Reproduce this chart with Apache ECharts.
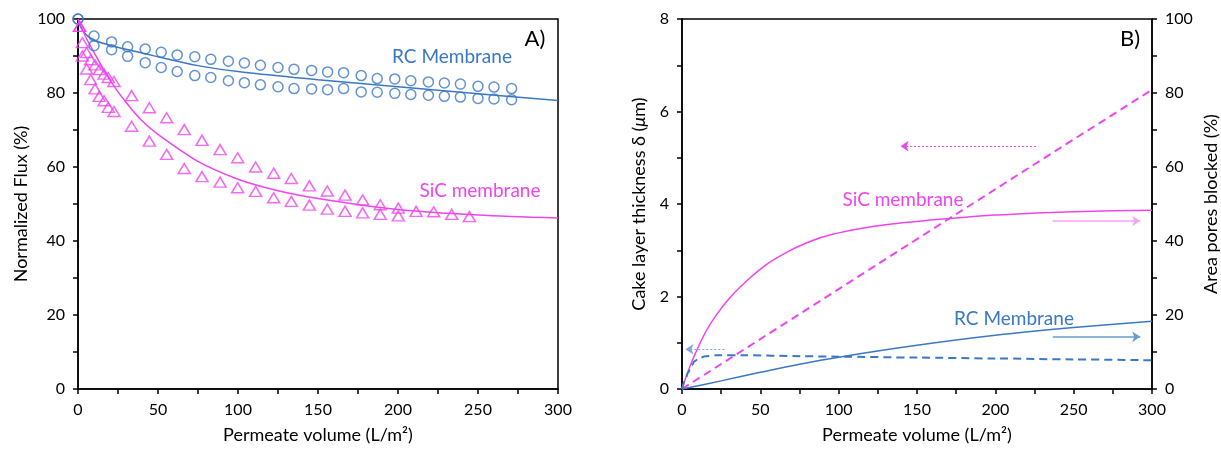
<!DOCTYPE html>
<html>
<head>
<meta charset="utf-8">
<script src="https://cdn.jsdelivr.net/npm/echarts@6/dist/echarts.min.js"></script>
<style>
  html, body { margin: 0; padding: 0; background: #fff; }
  #chart { width: 1221px; height: 449px; }
</style>
</head>
<body>
<div id="chart"></div>
<script>
// A) normalized flux, two runs per membrane
var rcVolume = [0, 10, 21, 31, 42, 52, 62, 73, 83, 94, 104, 114, 125, 135, 146, 156, 166, 177, 187, 198, 208, 219, 229, 239, 250, 260, 271];
var rcRun1 = [100, 95.4, 93.8, 92.5, 91.9, 91.0, 90.3, 89.8, 89.1, 88.6, 88.1, 87.5, 86.9, 86.4, 86.1, 85.7, 85.5, 84.7, 83.9, 83.8, 83.3, 83.0, 82.7, 82.4, 81.8, 81.6, 81.2];
var rcRun2 = [100, 92.8, 91.7, 89.9, 88.2, 86.9, 85.8, 84.7, 84.2, 83.3, 82.8, 82.2, 81.7, 81.2, 81.1, 80.9, 81.2, 80.3, 80.2, 79.9, 79.6, 79.4, 79.1, 78.9, 78.5, 78.4, 78.2];

var sicVolume1 = [1, 2.7, 5.4, 7.9, 10.6, 13.3, 16.3, 18.9, 22.5, 33.5, 44.6, 55.4, 66.4, 77.5, 88.8, 99.8, 111, 122.3, 133.3, 144.6, 155.8, 166.9, 177.9, 188.9, 200.2, 211.3, 222.3, 233.6, 244.6];
var sicRun1 = [98, 93.6, 90.9, 89.0, 87.6, 86.3, 85.1, 84.2, 83.1, 79.3, 76.0, 73.3, 70.1, 67.2, 64.7, 62.5, 60.0, 58.3, 56.9, 54.9, 53.5, 52.4, 51.1, 49.8, 48.9, 48.0, 47.9, 47.2, 46.6];
var sicVolume2 = [1, 2.7, 5.4, 7.9, 10.6, 13.3, 16.3, 18.9, 22.5, 33.5, 44.6, 55.4, 66.4, 77.5, 88.8, 99.8, 111, 122.3, 133.3, 144.6, 155.8, 166.9, 177.9, 188.9, 200.2];
var sicRun2 = [98, 90.0, 86.5, 83.6, 81.1, 79.1, 77.9, 76.1, 75.0, 71.0, 67.0, 63.4, 59.6, 57.4, 55.9, 54.4, 53.4, 51.7, 50.7, 49.7, 48.6, 48.0, 47.6, 47.2, 46.8];

var rcFitX = [0, 2, 5, 8, 15, 30, 50, 75, 100, 135, 150, 200, 250, 300];
var rcFitY = [100, 97.5, 95.8, 94.8, 93.5, 91.8, 89.8, 87.4, 85.8, 84.2, 83.6, 81.7, 79.8, 78.0];
var sicFitX = [0, 5, 10, 20, 30, 40, 50, 75, 100, 125, 150, 200, 250, 300];
var sicFitY = [100, 95, 91, 83.5, 77.5, 72.5, 68.8, 61.5, 56.7, 53.6, 51.5, 48.5, 47, 46.2];

// B) cake thickness (left axis) and area blocked (right axis)
var sicBlockedX = [0, 5, 10, 15, 20, 30, 40, 50, 60, 80, 100, 125, 150, 175, 200, 250, 300];
var sicBlockedY = [0, 6, 11, 15.3, 18.8, 24.4, 28.7, 32.4, 35.3, 39.6, 42.2, 44.1, 45.3, 46.2, 47, 47.9, 48.3];
var sicCakeX = [0, 75, 150, 225, 300];
var sicCakeY = [0, 1.62, 3.24, 4.86, 6.47];
var rcBlockedX = [0, 25, 50, 75, 100, 150, 200, 250, 300];
var rcBlockedY = [0, 2.2, 4.5, 6.7, 8.6, 11.8, 14.5, 16.6, 18.3];
var rcCakeX = [0, 2, 4, 6, 8, 11, 15, 22, 40, 75, 100, 150, 200, 250, 300];
var rcCakeY = [0, 0.2, 0.36, 0.5, 0.6, 0.67, 0.71, 0.73, 0.73, 0.71, 0.7, 0.68, 0.66, 0.64, 0.62];

// arrows: [x from, x to, y]
var sicCakeArrow = [226, 139.5, 5.25];
var rcCakeArrow = [27, 2.2, 0.86];
var sicBlockedArrow = [236.7, 292.5, 45.4];
var rcBlockedArrow = [236.7, 292.5, 14.1];

var xTicks = [0, 50, 100, 150, 200, 250, 300];

var BLUE = '#3b78c4';
var PINK = '#ee45ee';
var FONT = 'Lato';

function pairs(xs, ys) {
  return xs.map(function (x, i) { return [x, ys[i]]; });
}

function arrow(a, color, type, width) {
  return {
    silent: true,
    symbol: ['none', 'arrow'],
    symbolSize: 8,
    label: { show: false },
    lineStyle: { color: color, type: type, width: width },
    emphasis: { disabled: true },
    data: [[{ coord: [a[0], a[2]] }, { coord: [a[1], a[2]] }]]
  };
}

var chart = echarts.init(document.getElementById('chart'));

var axisBase = {
  splitLine: { show: false },
  axisLine: { lineStyle: { color: '#000', width: 1.5 } },
  axisTick: { length: 5, lineStyle: { color: '#000', width: 1.5 } },
  minorTick: { show: true, splitNumber: 2, length: 5, lineStyle: { color: '#000', width: 1.5 } },
  axisLabel: { color: '#000', fontSize: 16, fontFamily: FONT, margin: 13 },
  nameLocation: 'middle',
  nameTextStyle: { color: '#000', fontSize: 18, fontFamily: FONT }
};

function ax(extra) {
  return Object.assign({}, JSON.parse(JSON.stringify(axisBase)), extra);
}

var option = {
  animation: false,
  backgroundColor: '#fff',
  grid: [
    { left: 78, right: 663, top: 19, bottom: 58, show: true, borderColor: '#000', borderWidth: 1.5 },
    { left: 682, right: 68, top: 19, bottom: 57, show: true, borderColor: '#000', borderWidth: 1.5 }
  ],
  xAxis: [
    ax({ gridIndex: 0, type: 'value', min: xTicks[0], max: xTicks[xTicks.length - 1], interval: 50,
      name: 'Permeate volume (L/m²)', nameGap: 37 }),
    ax({ gridIndex: 1, type: 'value', min: xTicks[0], max: xTicks[xTicks.length - 1], interval: 50,
      name: 'Permeate volume (L/m²)', nameGap: 37 })
  ],
  yAxis: [
    ax({ gridIndex: 0, type: 'value', min: 0, max: 100, interval: 20,
      name: 'Normalized Flux (%)', nameGap: 48 }),
    ax({ gridIndex: 1, type: 'value', min: 0, max: 8, interval: 2, position: 'left',
      name: 'Cake layer thickness δ ({i|μ}m)', nameGap: 34,
      nameTextStyle: { color: '#000', fontSize: 18, fontFamily: FONT,
        rich: { i: { fontStyle: 'italic', fontSize: 18, fontFamily: FONT, color: '#000' } } } }),
    ax({ gridIndex: 1, type: 'value', min: 0, max: 100, interval: 20, position: 'right',
      name: 'Area pores blocked (%)', nameGap: 50, nameRotate: 90 })
  ],
  series: [
    { type: 'line', xAxisIndex: 0, yAxisIndex: 0, data: pairs(rcFitX, rcFitY), smooth: 0.3,
      showSymbol: false, lineStyle: { color: BLUE, width: 1.5 }, z: 2 },
    { type: 'line', xAxisIndex: 0, yAxisIndex: 0, data: pairs(sicFitX, sicFitY), smooth: 0.3,
      showSymbol: false, lineStyle: { color: PINK, width: 1.5 }, z: 2 },
    { type: 'scatter', xAxisIndex: 0, yAxisIndex: 0, data: pairs(rcVolume, rcRun1), symbol: 'circle',
      symbolSize: 10, itemStyle: { color: 'rgba(0,0,0,0)', borderColor: BLUE, borderWidth: 1.5 }, z: 3 },
    { type: 'scatter', xAxisIndex: 0, yAxisIndex: 0, data: pairs(rcVolume, rcRun2), symbol: 'circle',
      symbolSize: 10, itemStyle: { color: 'rgba(0,0,0,0)', borderColor: BLUE, borderWidth: 1.5 }, z: 3 },
    { type: 'scatter', xAxisIndex: 0, yAxisIndex: 0, data: pairs(sicVolume1, sicRun1), symbol: 'triangle',
      symbolSize: [12, 10], itemStyle: { color: 'rgba(0,0,0,0)', borderColor: PINK, borderWidth: 1.5 }, z: 3 },
    { type: 'scatter', xAxisIndex: 0, yAxisIndex: 0, data: pairs(sicVolume2, sicRun2), symbol: 'triangle',
      symbolSize: [12, 10], itemStyle: { color: 'rgba(0,0,0,0)', borderColor: PINK, borderWidth: 1.5 }, z: 3 },

    { type: 'line', xAxisIndex: 1, yAxisIndex: 2, data: pairs(sicBlockedX, sicBlockedY), smooth: 0.5,
      showSymbol: false, lineStyle: { color: PINK, width: 1.5 },
      markLine: arrow(sicBlockedArrow, '#f7a3f7', 'solid', 1.5) },
    { type: 'line', xAxisIndex: 1, yAxisIndex: 1, data: pairs(sicCakeX, sicCakeY),
      showSymbol: false, lineStyle: { color: PINK, width: 2, type: [8, 5] },
      markLine: arrow(sicCakeArrow, PINK, [2, 2], 1) },
    { type: 'line', xAxisIndex: 1, yAxisIndex: 2, data: pairs(rcBlockedX, rcBlockedY), smooth: 0.3,
      showSymbol: false, lineStyle: { color: BLUE, width: 1.5 },
      markLine: arrow(rcBlockedArrow, '#6b9bd6', 'solid', 1.5) },
    { type: 'line', xAxisIndex: 1, yAxisIndex: 1, data: pairs(rcCakeX, rcCakeY), smooth: 0.3, smoothMonotone: 'x',
      showSymbol: false, lineStyle: { color: BLUE, width: 2, type: [8, 5] },
      markLine: arrow(rcCakeArrow, '#7fa7dc', [2, 2], 1) }
  ],
  graphic: [
    { type: 'text', x: 452, y: 57, style: { text: 'RC Membrane', fill: BLUE, fontSize: 19, fontFamily: FONT, align: 'center', verticalAlign: 'middle' } },
    { type: 'text', x: 480, y: 191, style: { text: 'SiC membrane', fill: PINK, fontSize: 19, fontFamily: FONT, align: 'center', verticalAlign: 'middle' } },
    { type: 'text', x: 535, y: 39, style: { text: 'A)', fill: '#000', fontSize: 22, fontFamily: FONT, align: 'center', verticalAlign: 'middle' } },
    { type: 'text', x: 903, y: 200, style: { text: 'SiC membrane', fill: PINK, fontSize: 19, fontFamily: FONT, align: 'center', verticalAlign: 'middle' } },
    { type: 'text', x: 1014, y: 319, style: { text: 'RC Membrane', fill: BLUE, fontSize: 19, fontFamily: FONT, align: 'center', verticalAlign: 'middle' } },
    { type: 'text', x: 1130, y: 39, style: { text: 'B)', fill: '#000', fontSize: 22, fontFamily: FONT, align: 'center', verticalAlign: 'middle' } }
  ]
};

chart.setOption(option);
</script>
</body>
</html>
